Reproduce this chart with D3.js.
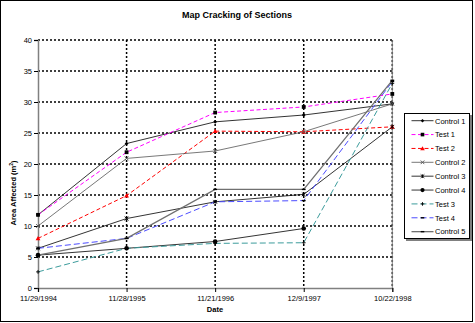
<!DOCTYPE html>
<html><head><meta charset="utf-8">
<script src="https://cdn.jsdelivr.net/npm/d3@7"></script>
<style>html,body{margin:0;padding:0;background:#fff;}svg{display:block;font-family:"Liberation Sans",Arial,sans-serif;}</style>
</head><body>
<script>
const dates = ["11/29/1994","11/28/1995","11/21/1996","12/9/1997","10/22/1998"];
const yTicks = [0,5,10,15,20,25,30,35,40];
const control1 = [11.8, 23.3, 26.8, 27.9, 29.7];
const test1    = [11.8, 21.9, 28.3, 29.2, 31.3];
const test2    = [8.0, 14.9, 25.3, 25.2, 26.0];
const control2 = [10.0, 20.9, 22.1, 25.2, 29.7];
const control3 = [6.4, 11.2, 13.9, 15.1, 26.0];
const control4 = [5.3, 6.4, 7.5, 9.6, null];
const test3    = [2.6, 6.4, 7.2, 7.3, 33.0];
const test4    = [6.4, 8.0, 13.9, 14.1, 33.3];
const control5 = [5.3, 8.0, 15.9, 15.9, 33.5];
const seriesNames = ["Control 1","Test 1","Test 2","Control 2","Control 3","Control 4","Test 3","Test 4","Control 5"];

const styles = {
  "Control 1": {color:"#000", dash:null, w:0.8, marker:"diamond", mcolor:"#000"},
  "Test 1":    {color:"#FF00FF", dash:"4,2.5", w:1, marker:"square", mcolor:"#000"},
  "Test 2":    {color:"#FF0000", dash:"4,2.5", w:1, marker:"triangle", mcolor:"#FF0000"},
  "Control 2": {color:"#555", dash:null, w:0.8, marker:"x", mcolor:"#555"},
  "Control 3": {color:"#000", dash:null, w:0.8, marker:"star", mcolor:"#000"},
  "Control 4": {color:"#000", dash:null, w:0.8, marker:"circle", mcolor:"#000"},
  "Test 3":    {color:"#3C9C9C", dash:"6,3", w:1, marker:"plus", mcolor:"#000"},
  "Test 4":    {color:"#4C4CFF", dash:"6,3", w:1, marker:"dash", mcolor:"#000"},
  "Control 5": {color:"#707070", dash:null, w:1.3, marker:"dash", mcolor:"#000"}
};
const values = {"Control 1":control1,"Test 1":test1,"Test 2":test2,"Control 2":control2,"Control 3":control3,"Control 4":control4,"Test 3":test3,"Test 4":test4,"Control 5":control5};

const W=475,H=323;
const svg = d3.select("body").append("svg").attr("width",W).attr("height",H);
svg.append("rect").attr("x",0.5).attr("y",0.5).attr("width",472).attr("height",321).attr("fill","#fff").attr("stroke","#000").attr("stroke-width",1);

const x = d3.scalePoint().domain(dates).range([38,392.3]).padding(0);
const y = d3.scaleLinear().domain([0,40]).range([288,40]);

// gridlines
const g = svg.append("g");
g.selectAll(".hg").data(yTicks.filter(t=>t>0)).enter().append("line")
  .attr("x1",38).attr("x2",392.3).attr("y1",d=>y(d)).attr("y2",d=>y(d))
  .attr("stroke","#000").attr("stroke-width",1.5).attr("stroke-dasharray","2,2");
g.selectAll(".vg").data(dates.slice(1)).enter().append("line")
  .attr("x1",d=>x(d)).attr("x2",d=>x(d)).attr("y1",40).attr("y2",288)
  .attr("stroke","#000").attr("stroke-width",1.5).attr("stroke-dasharray","2,2");
svg.append("line").attr("x1",392.3).attr("x2",392.3).attr("y1",40).attr("y2",288).attr("stroke","#808080").attr("stroke-width",1);

// axes
const yAxis = d3.axisLeft(y).tickValues(yTicks).tickSize(4).tickPadding(2);
const ya = svg.append("g").attr("transform","translate(38,0)").call(yAxis);
ya.select(".domain").attr("stroke","#808080").attr("stroke-width",1.5);
ya.selectAll(".tick line").attr("stroke","#000");
ya.selectAll("text").attr("font-size",7.5).attr("fill","#000").attr("font-family","Liberation Sans, Arial, sans-serif");
const xAxis = d3.axisBottom(x).tickSize(4).tickPadding(4);
const xa = svg.append("g").attr("transform","translate(0,288)").call(xAxis);
xa.select(".domain").attr("stroke","#808080").attr("stroke-width",1.5);
xa.selectAll(".tick line").attr("stroke","#000");
xa.selectAll("text").attr("font-size",7.5).attr("fill","#000").attr("font-family","Liberation Sans, Arial, sans-serif");

// series
const line = d3.line().defined(d=>d.v!=null).x(d=>x(d.d)).y(d=>y(d.v));
function marker(sel, type, color, s){
  if(type==="diamond") sel.append("path").attr("d",`M0,${-s}L${s},0L0,${s}L${-s},0Z`).attr("fill",color);
  else if(type==="square") sel.append("rect").attr("x",-s).attr("y",-s).attr("width",2*s).attr("height",2*s).attr("fill",color);
  else if(type==="triangle") sel.append("path").attr("d",`M0,${-s-0.5}L${s+0.5},${s}L${-s-0.5},${s}Z`).attr("fill",color);
  else if(type==="circle") sel.append("circle").attr("r",s).attr("fill",color);
  else if(type==="x") sel.append("path").attr("d",`M${-s},${-s}L${s},${s}M${-s},${s}L${s},${-s}`).attr("stroke",color).attr("stroke-width",0.9);
  else if(type==="star") sel.append("path").attr("d",`M${-s},${-s}L${s},${s}M${-s},${s}L${s},${-s}M0,${-s}L0,${s}`).attr("stroke",color).attr("stroke-width",0.9);
  else if(type==="plus") sel.append("path").attr("d",`M${-s},0L${s},0M0,${-s}L0,${s}`).attr("stroke",color).attr("stroke-width",0.9);
  else if(type==="dash") sel.append("path").attr("d",`M${-s},0L${s},0`).attr("stroke",color).attr("stroke-width",1.4);
}
const plot = svg.append("g");
seriesNames.forEach(name=>{
  const st=styles[name];
  const data = dates.map((d,i)=>({d:d,v:values[name][i]}));
  plot.append("path").datum(data).attr("d",line).attr("fill","none")
    .attr("stroke",st.color).attr("stroke-width",st.w).attr("stroke-dasharray",st.dash);
});
seriesNames.forEach(name=>{
  const st=styles[name];
  const data = dates.map((d,i)=>({d:d,v:values[name][i]})).filter(d=>d.v!=null);
  data.forEach(p=>{
    const m = plot.append("g").attr("transform",`translate(${x(p.d)},${y(p.v)})`);
    marker(m, st.marker, st.mcolor, st.marker==="circle"?2.3:1.9);
  });
});

// titles
svg.append("text").attr("x",237).attr("y",18).attr("text-anchor","middle").attr("font-size",9).attr("font-weight","bold").text("Map Cracking of Sections");
svg.append("text").attr("x",215).attr("y",312).attr("text-anchor","middle").attr("font-size",7.5).attr("font-weight","bold").text("Date");
const yt = svg.append("text").attr("transform","translate(16,193) rotate(-90)").attr("text-anchor","middle").attr("font-size",7.5).attr("font-weight","bold");
yt.append("tspan").text("Area Affected (m");
yt.append("tspan").attr("baseline-shift","super").attr("font-size",5).text("2");
yt.append("tspan").text(")");

// legend
const lg = svg.append("g");
lg.append("rect").attr("x",406).attr("y",115).attr("width",66).attr("height",126).attr("fill","#808080");
lg.append("rect").attr("x",404.5).attr("y",113.5).attr("width",65).attr("height",125).attr("fill","#fff").attr("stroke","#000").attr("stroke-width",1);
seriesNames.forEach((name,i)=>{
  const st=styles[name];
  const yy = 120.7 + i*13.87;
  lg.append("line").attr("x1",411.5).attr("x2",433.5).attr("y1",yy).attr("y2",yy)
    .attr("stroke",st.color).attr("stroke-width",st.w).attr("stroke-dasharray",st.dash);
  const m = lg.append("g").attr("transform",`translate(422.5,${yy})`);
  marker(m, st.marker, st.mcolor, st.marker==="circle"?2.1:1.8);
  lg.append("text").attr("x",435).attr("y",yy+2.8).attr("font-size",7.5).text(name);
});
</script>
</body></html>
